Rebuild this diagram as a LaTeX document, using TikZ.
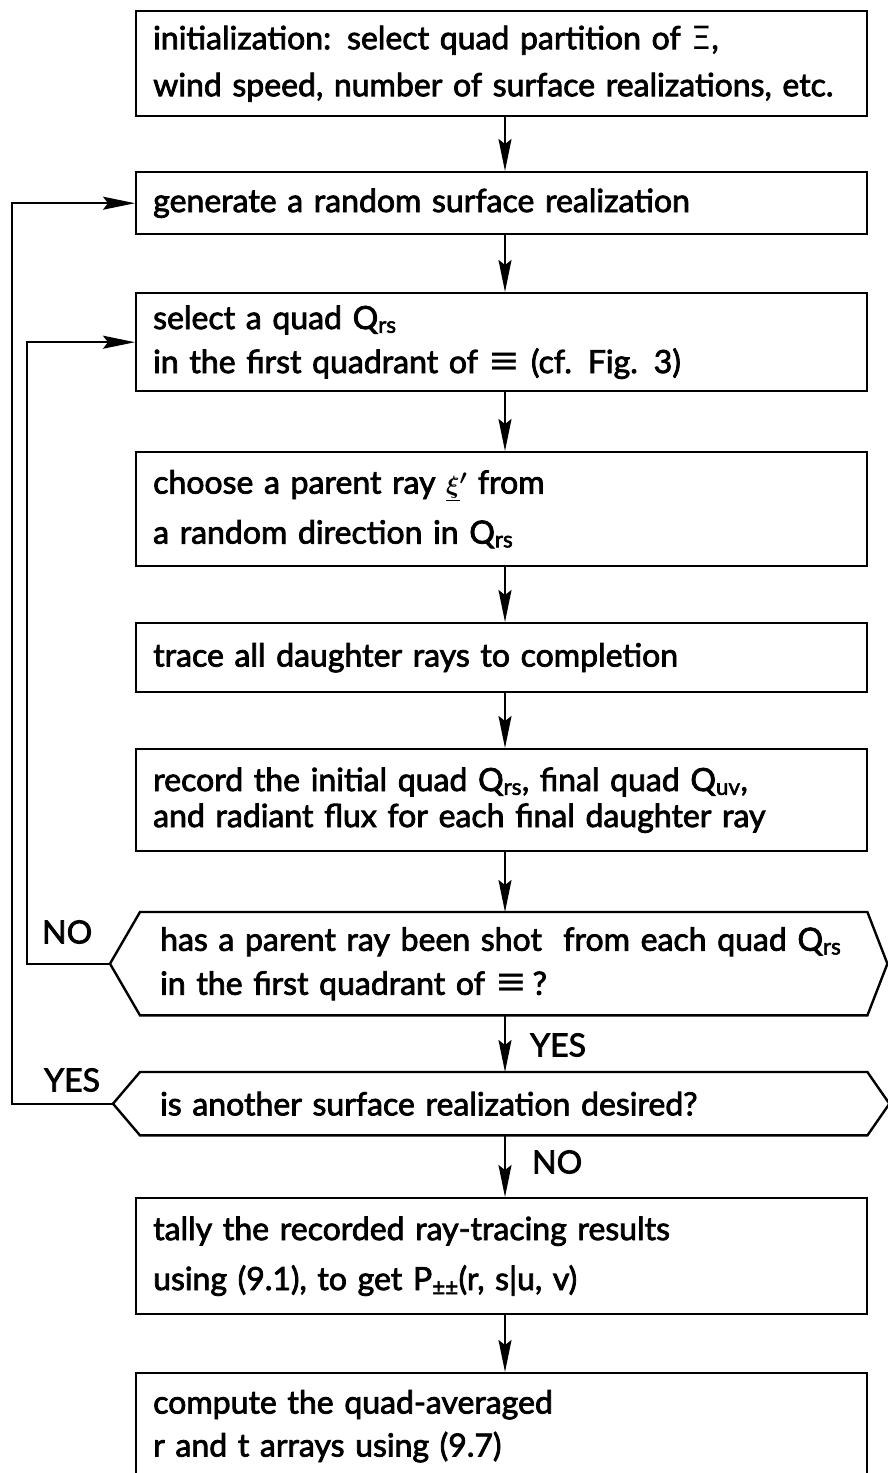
\documentclass[tikz,border=0pt]{standalone}
\usepackage{fontspec}
\setmainfont{Lato}[FakeBold=2.4]
\newfontfamily\symf{DejaVu Sans}
\usetikzlibrary{arrows.meta,calc}

\newcommand{\bigxi}{{\symf\fontsize{38}{38}\selectfont ≡}}

\begin{document}
\begin{tikzpicture}[x=1pt,y=-1pt,
  txt/.style={font=\fontsize{32}{#1}\selectfont},
  stepbox/.style={draw, line width=2.4pt, anchor=north west, text width=697pt,
    inner xsep=17pt, inner ysep=0pt, align=left, minimum width=731pt},
  decision/.style={anchor=north west, text width=687pt, inner xsep=20pt,
    inner ysep=0pt, align=left, minimum width=727pt},
  hexline/.style={line width=2.4pt, line join=miter},
  arr/.style={line width=2pt, -{Stealth[length=32pt,width=13pt,inset=5pt]}},
  loop/.style={line width=2pt, -{Stealth[length=32pt,width=13pt,inset=5pt]}},
  lbl/.style={font=\fontsize{32}{36}\selectfont, inner sep=0pt, anchor=west},
]
\useasboundingbox (0,0) rectangle (887,1473);

% vertical axis of the main flow and the two loop-back lanes
\coordinate (axis) at (505,0);
\coordinate (innerx) at (27,0);
\coordinate (outerx) at (12,0);

% process steps
\node[stepbox, txt=47, minimum height=105pt] (b1) at (135,10)
  {initialization: select quad partition of {\symf Ξ},\\
   \mbox{wind speed, number of surface realizations, etc.}};
\node[stepbox, txt=36, minimum height=62pt] (b2) at (135,171)
  {generate a random surface realization};
\node[stepbox, txt=44, minimum height=98pt] (b3) at (135,292)
  {select a quad Q\textsubscript{rs}\\
   in the first quadrant of \bigxi\ (cf. Fig. 3)};
\node[stepbox, txt=50, minimum height=114pt] (b4) at (135,451)
  {choose a parent ray {\boldmath$\underline{\xi}'$} from\\
   a random direction in Q\textsubscript{rs}};
\node[stepbox, txt=36, minimum height=69pt] (b5) at (135,622)
  {trace all daughter rays to completion};
\node[stepbox, txt=36, minimum height=102pt] (b6) at (135,748)
  {record the initial quad Q\textsubscript{rs}, final quad Q\textsubscript{uv},\\
   and radiant flux for each final daughter ray};

% decisions (hexagons drawn around the text nodes)
\node[decision, txt=44, minimum height=103pt] (d1) at (140,912)
  {\mbox{has a parent ray been shot\ \ from each quad Q\textsubscript{rs}}\\
   in the first quadrant of \bigxi\,?};
\draw[hexline] (d1.north west) -- (d1.north east) -- ($(d1.east)+(20,0)$)
  -- (d1.south east) -- (d1.south west) -- ($(d1.west)+(-30,0)$) -- cycle;
\coordinate (d1tip) at ($(d1.west)+(-30,0)$);

\node[decision, txt=36, minimum height=63pt] (d2) at (140,1072)
  {is another surface realization desired?};
\draw[hexline] (d2.north west) -- (d2.north east) -- ($(d2.east)+(22,0)$)
  -- (d2.south east) -- (d2.south west) -- ($(d2.west)+(-27,0)$) -- cycle;
\coordinate (d2tip) at ($(d2.west)+(-27,0)$);

% final steps
\node[stepbox, txt=50, minimum height=116pt] (b7) at (135,1197)
  {tally the recorded ray-tracing results\\
   using (9.1), to get P\textsubscript{±±}(r, s{\textbar}u, v)};
\node[stepbox, txt=43, minimum height=106pt] (b8) at (135,1372)
  {compute the quad-averaged\\
   r and t arrays using (9.7)};

% main flow
\draw[arr] (b1.south -| axis) -- (b2.north -| axis);
\draw[arr] (b2.south -| axis) -- (b3.north -| axis);
\draw[arr] (b3.south -| axis) -- (b4.north -| axis);
\draw[arr] (b4.south -| axis) -- (b5.north -| axis);
\draw[arr] (b5.south -| axis) -- (b6.north -| axis);
\draw[arr] (b6.south -| axis) -- (d1.north -| axis);
\draw[arr] (d1.south -| axis) -- (d2.north -| axis);
\draw[arr] (d2.south -| axis) -- (b7.north -| axis);
\draw[arr] (b7.south -| axis) -- (b8.north -| axis);

% loop-backs
\draw[loop] (d1tip) -- (d1tip -| innerx) -- (b3.west -| innerx) -- (b3.west);
\draw[loop] (d2tip) -- (d2tip -| outerx) -- (b2.west -| outerx) -- (b2.west);

% branch labels
\node[lbl] (no1) at (42,932) {NO};
\node[lbl] (yes1) at (530,1045) {YES};
\node[lbl] (yes2) at (44,1080) {YES};
\node[lbl] (no2) at (532,1162) {NO};
\end{tikzpicture}
\end{document}
